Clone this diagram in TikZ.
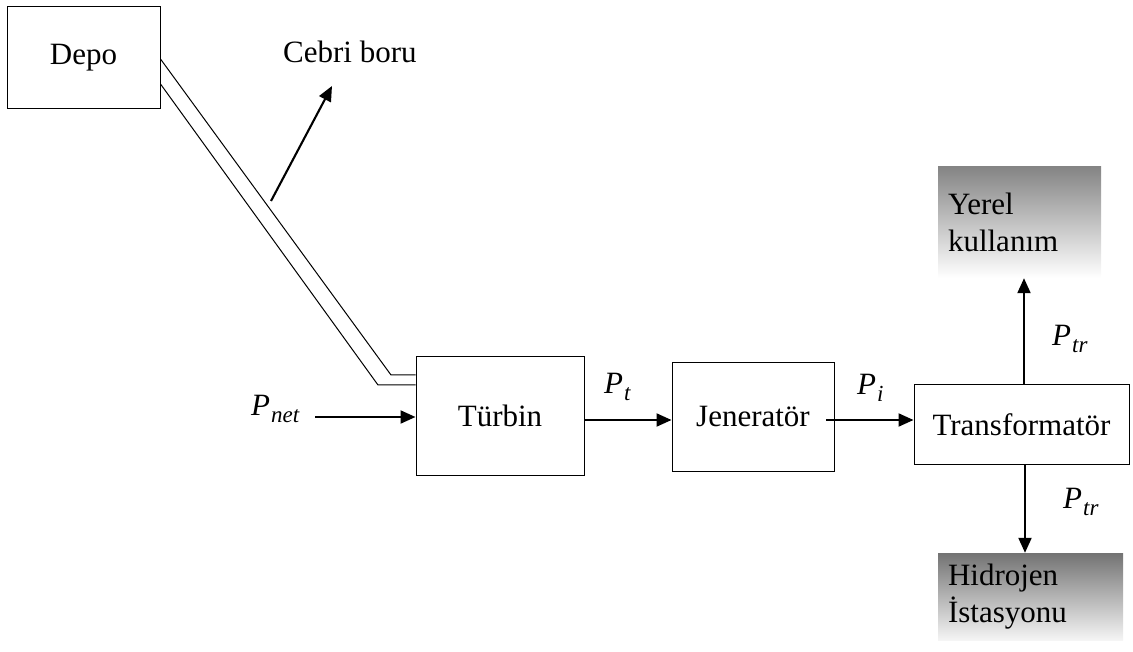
\documentclass[tikz,border=0pt]{standalone}
\usepackage{fontspec}
\setmainfont{Liberation Serif}
\usetikzlibrary{arrows.meta,calc}
\newcommand{\pwr}[1]{\textit{P}\kern1pt\raisebox{-7pt}{\fontsize{23}{27}\selectfont\textit{#1}}}
\begin{document}
\begin{tikzpicture}[x=1pt,y=-1pt,
  txt/.style={font=\fontsize{31}{37}\selectfont},
  lbl/.style={font=\fontsize{31}{37}\selectfont, inner sep=0pt},
  blockbox/.style={draw, line width=1pt, inner sep=0pt, txt},
  shadebox/.style={inner sep=0pt, txt, align=left},
  flow/.style={line width=2.1pt, -{Triangle[length=15pt,width=13pt]}},
  pipe/.style={line width=1pt}]
\useasboundingbox (0,0) rectangle (1133,652);
% blocks
\node[blockbox, minimum width=153pt, minimum height=102pt] (depo) at (83.5,58) {Depo\hspace{8pt}};
\node[blockbox, minimum width=168pt, minimum height=118pt] (turbin) at (500,416) {Türbin};
\node[blockbox, minimum width=162pt, minimum height=108pt] (jen) at (753,417) {Jeneratör};
\node[blockbox, minimum width=215pt, minimum height=79pt] (trafo) at (1021.5,424.5) {Transformatör};
\node[shadebox, minimum width=163pt, minimum height=111pt, top color=black!48, bottom color=white, text width=143pt] (yerel) at (1019.5,222.5) {Yerel\\kullanım};
\node[shadebox, minimum width=185pt, minimum height=87pt, top color=black!55, bottom color=black!4, text width=165pt] (hid) at (1030.5,596.5) {Hidrojen\\İstasyonu};
% labels
\node[txt, anchor=base west, inner sep=0pt] (cebri) at (283,63) {Cebri boru};
\node[lbl, anchor=base west] (pnet) at (251,415) {\pwr{net}};
\node[lbl, anchor=base west] (pt) at (604,393) {\pwr{t}};
\node[lbl, anchor=base west] (pi) at (857,395) {\pwr{i}};
\node[lbl, anchor=base west] (ptr1) at (1052,345) {\pwr{tr}};
\node[lbl, anchor=base west] (ptr2) at (1063,508) {\pwr{tr}};
% pipe
\coordinate (pu0) at (depo.east |- 0,59);
\coordinate (pl0) at (depo.east |- 0,84);
\coordinate (pu1) at (391,375);
\coordinate (pl1) at (378,385);
\coordinate (pu2) at (turbin.west |- pu1);
\coordinate (pl2) at (turbin.west |- pl1);
\draw[pipe] (pu0) -- (pu1) -- (pu2);
\draw[pipe] (pl0) -- (pl1) -- (pl2);
% pointer to pipe
\coordinate (cs) at (271,201);
\coordinate (ce) at (332,86);
\draw[flow] (cs) -- (ce);
% flows
\coordinate (pin) at (315,417);
\draw[flow] (pin) -- (turbin.west |- pin);
\draw[flow] (turbin.east |- 0,420) -- (jen.west |- 0,420);
\coordinate (jo) at (826,420);
\draw[flow] (jo) -- (trafo.west |- jo);
\draw[flow] (trafo.north -| 1024,0) -- (yerel.south -| 1024,0);
\draw[flow] (trafo.south -| 1025,0) -- (hid.north -| 1025,0);
\end{tikzpicture}
\end{document}
